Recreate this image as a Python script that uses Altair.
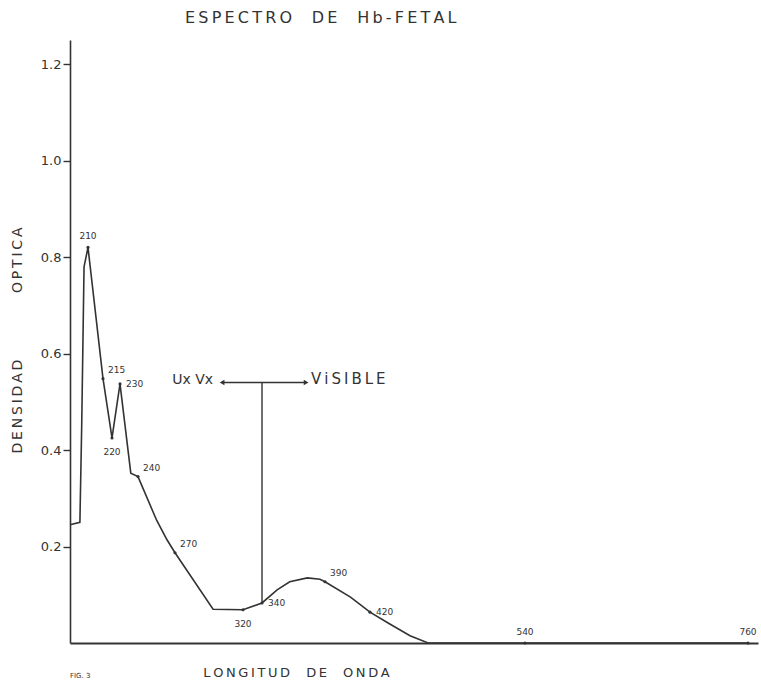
import altair as alt
import pandas as pd

# ---- data ----
wavelength = [200, 205.5, 206.5, 207.8, 210, 215, 220, 230, 236, 240, 255, 263.5, 270,
              298, 320, 340, 352, 362, 376, 386, 390, 407, 420, 435, 451, 465, 540, 760]
density = [0.245, 0.25, 0.45, 0.78, 0.82, 0.548, 0.425, 0.537, 0.352, 0.345, 0.255, 0.214, 0.187,
           0.07, 0.069, 0.083, 0.11, 0.127, 0.135, 0.132, 0.127, 0.095, 0.064, 0.04, 0.015, 0.0, 0.0, 0.0]

label_wl = [210, 215, 220, 230, 240, 270, 320, 340, 390, 420, 540, 760]
label_d = [0.82, 0.548, 0.425, 0.537, 0.345, 0.187, 0.069, 0.083, 0.127, 0.064, 0.0, 0.0]
label_txt = ["210", "215", "220", "230", "240", "270", "320", "340", "390", "420", "540", "760"]
label_pos = ["above", "upright", "below", "right", "upright", "upright", "below", "right",
             "upright", "right", "above", "above"]

arrow_left_wl = [304.6]
arrow_right_wl = [375]
arrow_d = [0.54]
divider_wl = [340]
divider_d = [0.085]

y_ticks = [0.2, 0.4, 0.6, 0.8, 1.0, 1.2]

# hand-drawn (non-uniform) wavelength axis: piecewise scale stops
axis_nm = [200, 210, 215, 220, 230, 240, 270, 320, 340, 390, 420, 540, 760, 768]
axis_px = [0, 18, 33, 42, 50, 68, 105, 173, 192, 255, 300, 455, 678, 688]

INK = "#333333"
FONT = "DejaVu Sans"
W, H = 688, 603
TS = "\u2009"  # thin space used to spread the lettering


def spaced(s):
    return TS.join(s).replace(" ", "\u00a0")


curve = pd.DataFrame({"wl": wavelength, "d": density})
labels = pd.DataFrame({"wl": label_wl, "d": label_d, "t": label_txt, "pos": label_pos})
arrow = pd.DataFrame({"wl": arrow_left_wl, "wl2": arrow_right_wl, "d": arrow_d})
divider = pd.DataFrame({"wl": divider_wl, "d": divider_d, "d2": arrow_d})

xs = alt.Scale(domain=axis_nm, range=axis_px)
ys = alt.Scale(domain=[0, 1.25])

line = alt.Chart(curve).mark_line(color=INK, strokeWidth=1.6, interpolate="linear").encode(
    x=alt.X("wl:Q", scale=xs, axis=alt.Axis(
        ticks=False, labels=False, grid=False, domainColor=INK, domainWidth=2.2,
        title=spaced("LONGITUD  DE  ONDA"), titleFont=FONT, titleFontSize=13,
        titleFontWeight="normal", titleColor=INK, titleX=226, titleY=29,
        titleAlign="center", titleBaseline="middle")),
    y=alt.Y("d:Q", scale=ys, axis=alt.Axis(
        values=y_ticks, format=".1f", grid=False, tickSize=7, tickColor=INK,
        tickWidth=1.4, domainColor=INK, domainWidth=1.6, labelFont=FONT,
        labelFontSize=13, labelColor=INK, labelPadding=2,
        title=spaced("DENSIDAD") + "\u00a0" * 15 + spaced("OPTICA"), titleFont=FONT,
        titleFontSize=14, titleFontWeight="normal", titleColor=INK,
        titleX=-53, titleY=300, titleAngle=270, titleAlign="center",
        titleBaseline="middle")),
)

pts = alt.Chart(labels).mark_point(filled=True, color=INK, size=10, opacity=1).encode(
    x=alt.X("wl:Q", scale=xs), y=alt.Y("d:Q", scale=ys))


def lab(pos, **kw):
    return alt.Chart(labels).transform_filter(alt.datum.pos == pos).mark_text(
        font=FONT, fontSize=9, color=INK, **kw).encode(
        x=alt.X("wl:Q", scale=xs), y=alt.Y("d:Q", scale=ys), text="t:N")


lab_above = lab("above", align="center", baseline="middle", dy=-11)
lab_upright = lab("upright", align="left", baseline="middle", dx=5, dy=-9)
lab_right = lab("right", align="left", baseline="middle", dx=6, dy=0)
lab_below = lab("below", align="center", baseline="middle", dy=14)

hrule = alt.Chart(arrow).mark_rule(color=INK, strokeWidth=1.4).encode(
    x=alt.X("wl:Q", scale=xs), x2="wl2:Q", y=alt.Y("d:Q", scale=ys))
vrule = alt.Chart(divider).mark_rule(color=INK, strokeWidth=1.4).encode(
    x=alt.X("wl:Q", scale=xs), y=alt.Y("d:Q", scale=ys), y2="d2:Q")
head_l = alt.Chart(arrow).mark_point(shape="triangle-left", filled=True, color=INK,
                                     size=30, opacity=1).encode(
    x=alt.X("wl:Q", scale=xs), y=alt.Y("d:Q", scale=ys))
head_r = alt.Chart(arrow).mark_point(shape="triangle-right", filled=True, color=INK,
                                     size=30, opacity=1).encode(
    x=alt.X("wl2:Q", scale=xs), y=alt.Y("d:Q", scale=ys))
txt_uv = alt.Chart(arrow).mark_text(font=FONT, fontSize=14, color=INK, align="right",
                                    baseline="middle", dx=-9, dy=-3, text="Ux Vx").encode(
    x=alt.X("wl:Q", scale=xs), y=alt.Y("d:Q", scale=ys))
txt_vis = alt.Chart(arrow).mark_text(font=FONT, fontSize=15, color=INK, align="left",
                                     baseline="middle", dx=5, dy=-4,
                                     text=spaced("ViSIBLE")).encode(
    x=alt.X("wl2:Q", scale=xs), y=alt.Y("d:Q", scale=ys))

fig = alt.Chart(arrow).mark_text(font=FONT, fontSize=7, color=INK, align="left",
                                 baseline="middle", text="FIG. 3").encode(
    x=alt.value(0), y=alt.value(H + 33))

chart = alt.layer(line, pts, lab_above, lab_upright, lab_right, lab_below,
                  hrule, vrule, head_l, head_r, txt_uv, txt_vis, fig).properties(
    width=W, height=H,
    title=alt.TitleParams(spaced("ESPECTRO  DE  Hb-FETAL"), anchor="start", frame="group",
                          dx=115, offset=14, font=FONT, fontSize=16, fontWeight="normal",
                          color=INK),
    autosize=alt.AutoSizeParams(type="none"),
    padding={"left": 70, "top": 40, "right": 3, "bottom": 47},
    background="white",
).configure_view(stroke=None)

chart.save("out.html", embed_options={"renderer": "svg", "actions": False})
